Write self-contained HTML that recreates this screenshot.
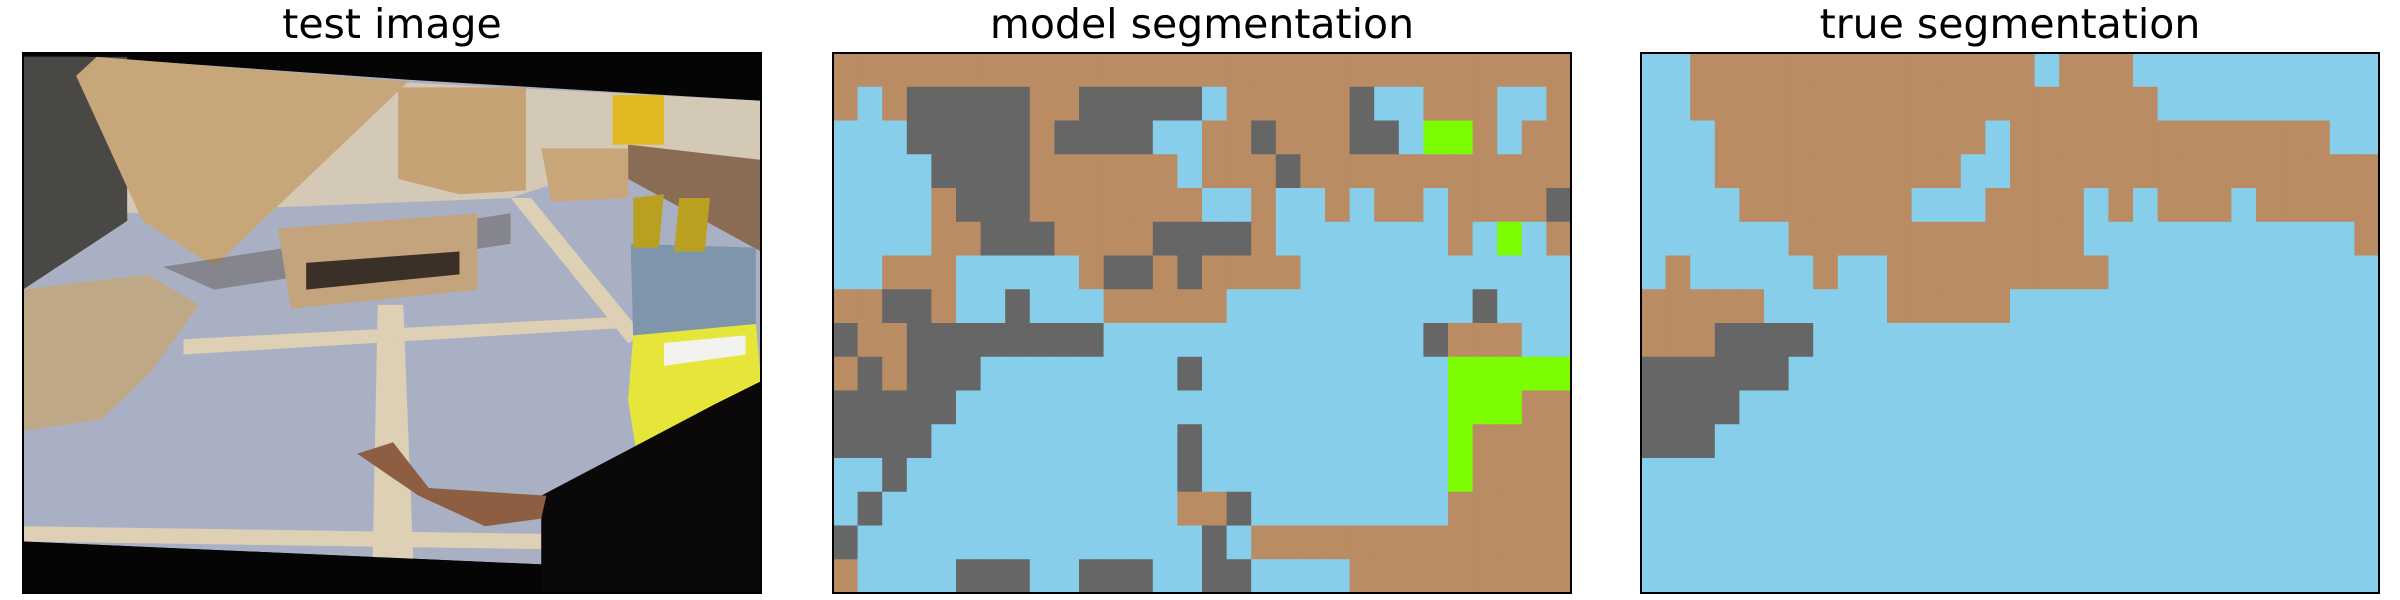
<!DOCTYPE html>
<html><head><meta charset="utf-8"><style>
html,body{margin:0;padding:0;background:#fff;}
svg{display:block;}
text{font-family:"DejaVu Sans","Liberation Sans",sans-serif;}
</style></head><body>
<svg id="root" width="2400" height="600" viewBox="0 0 2400 600" xmlns="http://www.w3.org/2000/svg">
<rect x="0" y="0" width="2400" height="600" fill="#fff"/>
<text x="392" y="38" font-size="41" text-anchor="middle">test image</text>
<text x="1202" y="38" font-size="41" text-anchor="middle">model segmentation</text>
<text x="2010" y="38" font-size="41" text-anchor="middle">true segmentation</text>

<svg x="23" y="53" width="738" height="540" viewBox="46 140 1444 1415" preserveAspectRatio="none">
 <rect x="46" y="140" width="1444" height="1415" fill="#050505"/>
 <polygon points="46,150 170,150 800,210 1490,265 1490,1000 1060,1480 46,1420" fill="#aab0c4"/>
 <polygon points="46,150 250,150 250,580 46,760" fill="#4a4845"/>
 <polygon points="250,180 1490,265 1490,520 1230,420 1000,520 250,560" fill="#d4c8b6"/>
 <polygon points="1230,380 1490,420 1490,660 1230,470" fill="#8a6c55"/>
 <polygon points="1200,250 1300,250 1300,380 1200,380" fill="#e0b820"/>
 <polygon points="780,230 1030,230 1030,500 900,510 780,470" fill="#c6a274"/>
 <polygon points="1060,390 1230,390 1230,520 1080,530" fill="#c9a67a"/>
 <polygon points="150,200 190,150 800,215 420,700 280,580" fill="#c7a77a"/>
 <polygon points="320,700 1000,560 1000,640 420,760" fill="#5f5a55" opacity="0.5"/>
 <polygon points="740,800 790,800 810,1480 730,1480" fill="#ddd0b4"/>
 <polygon points="360,890 1230,830 1230,860 360,930" fill="#ddd0b4"/>
 <polygon points="1000,520 1040,520 1260,880 1230,900" fill="#ddd0b4"/>
 <polygon points="46,1380 1060,1400 1060,1440 46,1420" fill="#ddd0b4"/>
 <polygon points="545,600 935,560 935,760 570,810" fill="#c4a47c"/>
 <polygon points="600,690 900,660 900,720 600,760" fill="#3b3028"/>
 <polygon points="46,760 290,720 390,800 300,970 200,1100 46,1130" fill="#bfa886"/>
 <polygon points="1235,640 1480,650 1480,860 1240,890" fill="#7f95ab"/>
 <polygon points="1240,520 1300,510 1290,650 1240,650" fill="#b9a020"/>
 <polygon points="1330,520 1390,520 1380,660 1320,660" fill="#b9a020"/>
 <polygon points="1240,880 1480,850 1490,1000 1400,1080 1260,1300 1230,1050" fill="#e6e63a"/>
 <polygon points="1300,900 1460,880 1460,930 1300,960" fill="#f2f2ee"/>
 <polygon points="1060,1300 1400,1060 1490,1000 1490,1555 1060,1555" fill="#0a0808"/>
 <polygon points="700,1190 770,1160 840,1280 1070,1300 1060,1360 950,1380 820,1300" fill="#8e5e42"/>
 <polygon points="46,1420 1060,1480 1060,1555 46,1555" fill="#050505"/>
</svg>
<rect x="23" y="53" width="738" height="540" fill="none" stroke="#000" stroke-width="2"/>

<g id="modelGrid"></g>
<rect x="833" y="53" width="738" height="540" fill="none" stroke="#000" stroke-width="2"/>
<g id="trueGrid"></g>
<rect x="1641" y="53" width="738" height="540" fill="none" stroke="#000" stroke-width="2"/>
</svg>
<script>
// class codes: B=wood, L=floor, G=dark, V=person
const classColors = {B:"#b98c63", L:"#87ceeb", G:"#666666", V:"#7cfc00"};
const modelRows = [
"BBBBBBBBBBBBBBBBBBBBBBBBBBBBBB",
"BLBGGGGGBBGGGGGLBBBBBGLLBBBLLB",
"LLLGGGGGBGGGGLLBBGBBBGGLVVBLBB",
"LLLLGGGGBBBBBBLBBBGBBBBBBBBBBB",
"LLLLBGGGBBBBBBBLLBLLBLBBLBBBBG",
"LLLLBBGGGBBBBGGGGBLLLLLLLBLVLB",
"LLBBBLLLLLBGGBGBBBBLLLLLLLLLLL",
"BBGGBLLGLLLBBBBBLLLLLLLLLLGLLL",
"GBBGGGGGGGGLLLLLLLLLLLLLGBBBLL",
"BGBGGGLLLLLLLLGLLLLLLLLLLVVVVV",
"GGGGGLLLLLLLLLLLLLLLLLLLLVVVBB",
"GGGGLLLLLLLLLLGLLLLLLLLLLVBBBB",
"LLGLLLLLLLLLLLGLLLLLLLLLLVBBBB",
"LGLLLLLLLLLLLLBBGLLLLLLLLBBBBB",
"GLLLLLLLLLLLLLLGLBBBBBBBBBBBBB",
"BLLLLGGGLLGGGLLGGLLLLBBBBBBBBB"
];
const trueRows = [
"LLBBBBBBBBBBBBBBLBBBLLLLLLLLLL",
"LLBBBBBBBBBBBBBBBBBBBLLLLLLLLL",
"LLLBBBBBBBBBBBLBBBBBBBBBBBBBLL",
"LLLBBBBBBBBBBLLBBBBBBBBBBBBBBB",
"LLLLBBBBBBBLLLBBBBLBLBBBLBBBBB",
"LLLLLLBBBBBBBBBBBBLLLLLLLLLLLB",
"LBLLLLLBLLBBBBBBBBBLLLLLLLLLLL",
"BBBBBLLLLLBBBBBLLLLLLLLLLLLLLL",
"BBBGGGGLLLLLLLLLLLLLLLLLLLLLLL",
"GGGGGGLLLLLLLLLLLLLLLLLLLLLLLL",
"GGGGLLLLLLLLLLLLLLLLLLLLLLLLLL",
"GGGLLLLLLLLLLLLLLLLLLLLLLLLLLL",
"LLLLLLLLLLLLLLLLLLLLLLLLLLLLLL",
"LLLLLLLLLLLLLLLLLLLLLLLLLLLLLL",
"LLLLLLLLLLLLLLLLLLLLLLLLLLLLLL",
"LLLLLLLLLLLLLLLLLLLLLLLLLLLLLL"
];
const NS = "http://www.w3.org/2000/svg";
function drawGrid(gid, rows, x0, y0, w, h, prefix){
  const g = document.getElementById(gid);
  const nr = rows.length, nc = rows[0].length;
  const xs = c => x0 + c * w / nc;
  const ys = r => y0 + r * h / nr;
  rows.forEach((row, r) => {
    for (let c = 0; c < nc; c++) {
      const rect = document.createElementNS(NS, "rect");
      rect.setAttribute("x", xs(c).toFixed(2));
      rect.setAttribute("y", ys(r).toFixed(2));
      rect.setAttribute("width", (xs(c+1) - xs(c) + 0.6).toFixed(2));
      rect.setAttribute("height", (ys(r+1) - ys(r) + 0.6).toFixed(2));
      rect.setAttribute("fill", classColors[row[c]] || "#000");
      
      
      g.appendChild(rect);
    }
  });
}
drawGrid("modelGrid", modelRows, 833, 53, 738, 540, "model");
drawGrid("trueGrid", trueRows, 1641, 53, 738, 540, "true");
</script>
</body></html>
